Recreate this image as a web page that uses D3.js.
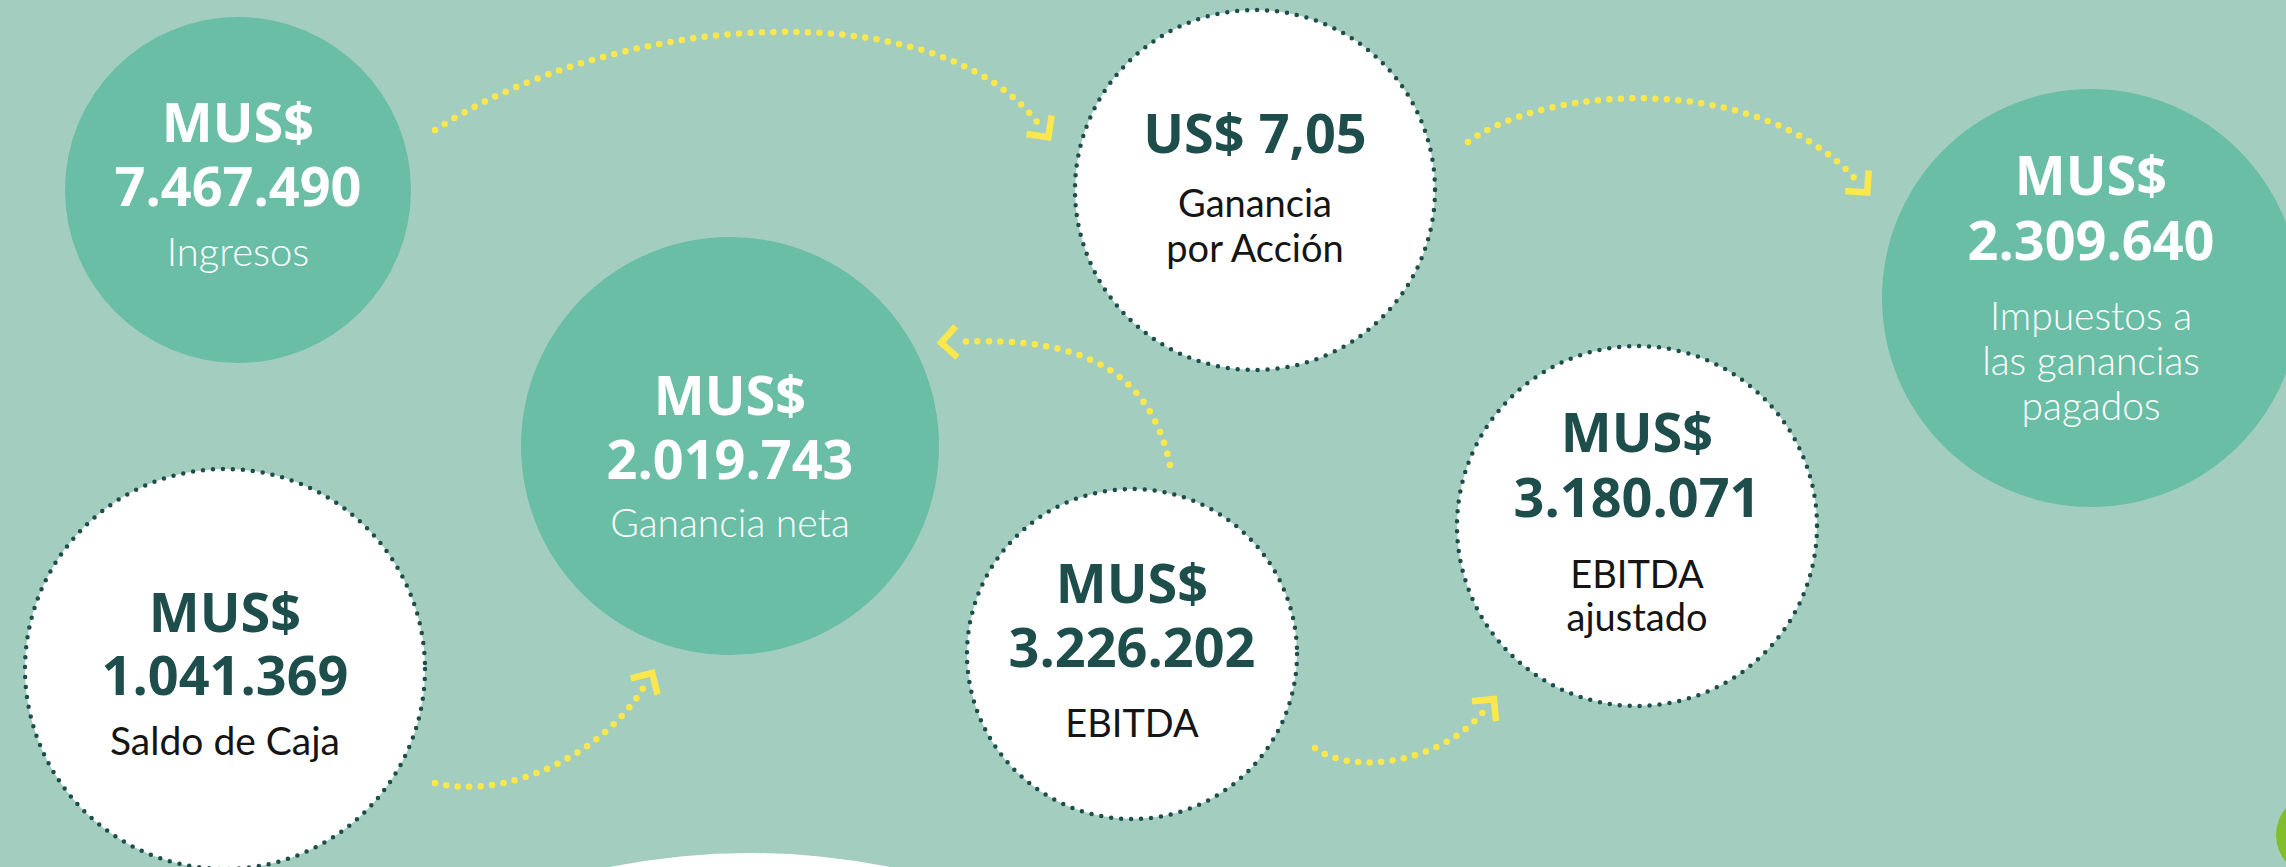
<!DOCTYPE html>
<html>
<head>
<meta charset="utf-8">
<script src="https://cdn.jsdelivr.net/npm/d3@7"></script>
<style>
  body { margin: 0; background: #a3cdbf; overflow: hidden; }
  .num { font-family: "Open Sans", sans-serif; font-weight: 700; }
  .lbl { font-family: Lato, sans-serif; }
</style>
</head>
<body>
<svg id="chart"></svg>
<script>
let width = 2286, height = 867;

// figures shown in the bubbles
let metrics = ["Ingresos", "Ganancia neta", "Ganancia por Acción", "Impuestos a las ganancias pagados", "EBITDA ajustado", "EBITDA", "Saldo de Caja"];
let currencies = ["MUS$", "MUS$", "US$", "MUS$", "MUS$", "MUS$", "MUS$"];
let amounts = ["7.467.490", "2.019.743", "7,05", "2.309.640", "3.180.071", "3.226.202", "1.041.369"];
let labelLines = [["Ingresos"], ["Ganancia neta"], ["Ganancia", "por Acción"], ["Impuestos a", "las ganancias", "pagados"], ["EBITDA", "ajustado"], ["EBITDA"], ["Saldo de Caja"]];

// layout of each bubble (center, radius, style, text rows)
let layout = [
    { cx: 238, cy: 190, r: 173, filled: true, headY: 142, amountY: 206, labelY: 266, lh: 45, lsize: 40, inline: false },
    { cx: 730, cy: 446, r: 209, filled: true, headY: 415, amountY: 479, labelY: 537, lh: 45, lsize: 39, inline: false },
    { cx: 1255, cy: 190, r: 180, filled: false, headY: 153, amountY: 153, labelY: 217, lh: 45, lsize: 38, inline: true },
    { cx: 2091, cy: 298, r: 209, filled: true, headY: 195, amountY: 260, labelY: 330, lh: 45, lsize: 39, inline: false },
    { cx: 1637, cy: 526, r: 180, filled: false, headY: 452, amountY: 517, labelY: 588, lh: 43, lsize: 38, inline: false },
    { cx: 1132, cy: 654, r: 165, filled: false, headY: 603, amountY: 667, labelY: 737, lh: 45, lsize: 38, inline: false },
    { cx: 225, cy: 669, r: 200, filled: false, headY: 632, amountY: 695, labelY: 755, lh: 45, lsize: 39, inline: false }
];

// dotted connectors: start, two controls, end
let arrows = [
    [[435, 130], [620, 10], [940, -10], [1040, 126]],
    [[1468, 142], [1545, 85], [1760, 70], [1858, 182]],
    [[1170, 465], [1150, 370], [1080, 335], [955, 342]],
    [[435, 783], [500, 800], [600, 760], [645, 685]],
    [[1315, 748], [1350, 775], [1440, 765], [1485, 710]]
];

let colors = { bg: "#a3cdbf", green: "#6abea5", dark: "#1e4e4b", yellow: "#fce84c", lime: "#84bd2c", ink: "#151515" };

let svg = d3.select("#chart").attr("width", width).attr("height", height);

svg.append("rect").attr("width", width).attr("height", height).attr("fill", colors.bg);

// decorative shapes at bottom edge
svg.append("circle").attr("cx", 750).attr("cy", 1560).attr("r", 707).attr("fill", "#fff");
svg.append("circle").attr("cx", 2318).attr("cy", 835).attr("r", 42).attr("fill", colors.lime);

let nodes = layout.map((d, i) => Object.assign({ currency: currencies[i], amount: amounts[i], lines: labelLines[i], name: metrics[i] }, d));

let g = svg.selectAll(".bubble").data(nodes).enter().append("g").attr("class", "bubble");

g.append("circle")
    .attr("cx", d => d.cx)
    .attr("cy", d => d.cy)
    .attr("r", d => d.r)
    .attr("fill", d => d.filled ? colors.green : "#fff")
    .attr("stroke", d => d.filled ? "none" : colors.dark)
    .attr("stroke-width", 4.5)
    .attr("stroke-linecap", "round")
    .attr("stroke-dasharray", "0 10");

g.append("text")
    .attr("class", "num")
    .attr("text-anchor", "middle")
    .attr("x", d => d.cx)
    .attr("y", d => d.headY)
    .attr("fill", d => d.filled ? "#fff" : colors.dark)
    .style("font-size", "54px")
    .text(d => d.inline ? d.currency + " " + d.amount : d.currency);

g.filter(d => !d.inline).append("text")
    .attr("class", "num")
    .attr("text-anchor", "middle")
    .attr("x", d => d.cx)
    .attr("y", d => d.amountY)
    .attr("fill", d => d.filled ? "#fff" : colors.dark)
    .style("font-size", "54px")
    .text(d => d.amount);

g.each(function(d) {
    let t = d3.select(this);
    d.lines.forEach(function(line, k) {
        t.append("text")
            .attr("class", "lbl")
            .attr("text-anchor", "middle")
            .attr("x", d.cx)
            .attr("y", d.labelY + k * d.lh)
            .attr("fill", d.filled ? "#fff" : colors.ink)
            .style("font-weight", d.filled ? 300 : 400)
            .style("font-size", d.lsize + "px")
            .text(line);
    });
});

// yellow dotted arrows
arrows.forEach(function(a) {
    let p = d3.path();
    p.moveTo(a[0][0], a[0][1]);
    p.bezierCurveTo(a[1][0], a[1][1], a[2][0], a[2][1], a[3][0], a[3][1]);
    svg.append("path")
        .attr("d", p.toString())
        .attr("fill", "none")
        .attr("stroke", colors.yellow)
        .attr("stroke-width", 6.5)
        .attr("stroke-linecap", "round")
        .attr("stroke-dasharray", "0 11.5");

    // chevron head along the end tangent
    let dx = a[3][0] - a[2][0], dy = a[3][1] - a[2][1];
    let len = Math.sqrt(dx * dx + dy * dy);
    let ux = dx / len, uy = dy / len;
    let tip = [a[3][0] + ux * 14, a[3][1] + uy * 14];
    let arm = 22;
    let rot = function(ang) {
        let c = Math.cos(ang), s = Math.sin(ang);
        return [tip[0] - arm * (ux * c - uy * s), tip[1] - arm * (ux * s + uy * c)];
    };
    svg.append("path")
        .attr("d", d3.line()([rot(Math.PI / 4), tip, rot(-Math.PI / 4)]))
        .attr("fill", "none")
        .attr("stroke", colors.yellow)
        .attr("stroke-width", 6.5)
        .attr("stroke-linejoin", "miter");
});
</script>
</body>
</html>
